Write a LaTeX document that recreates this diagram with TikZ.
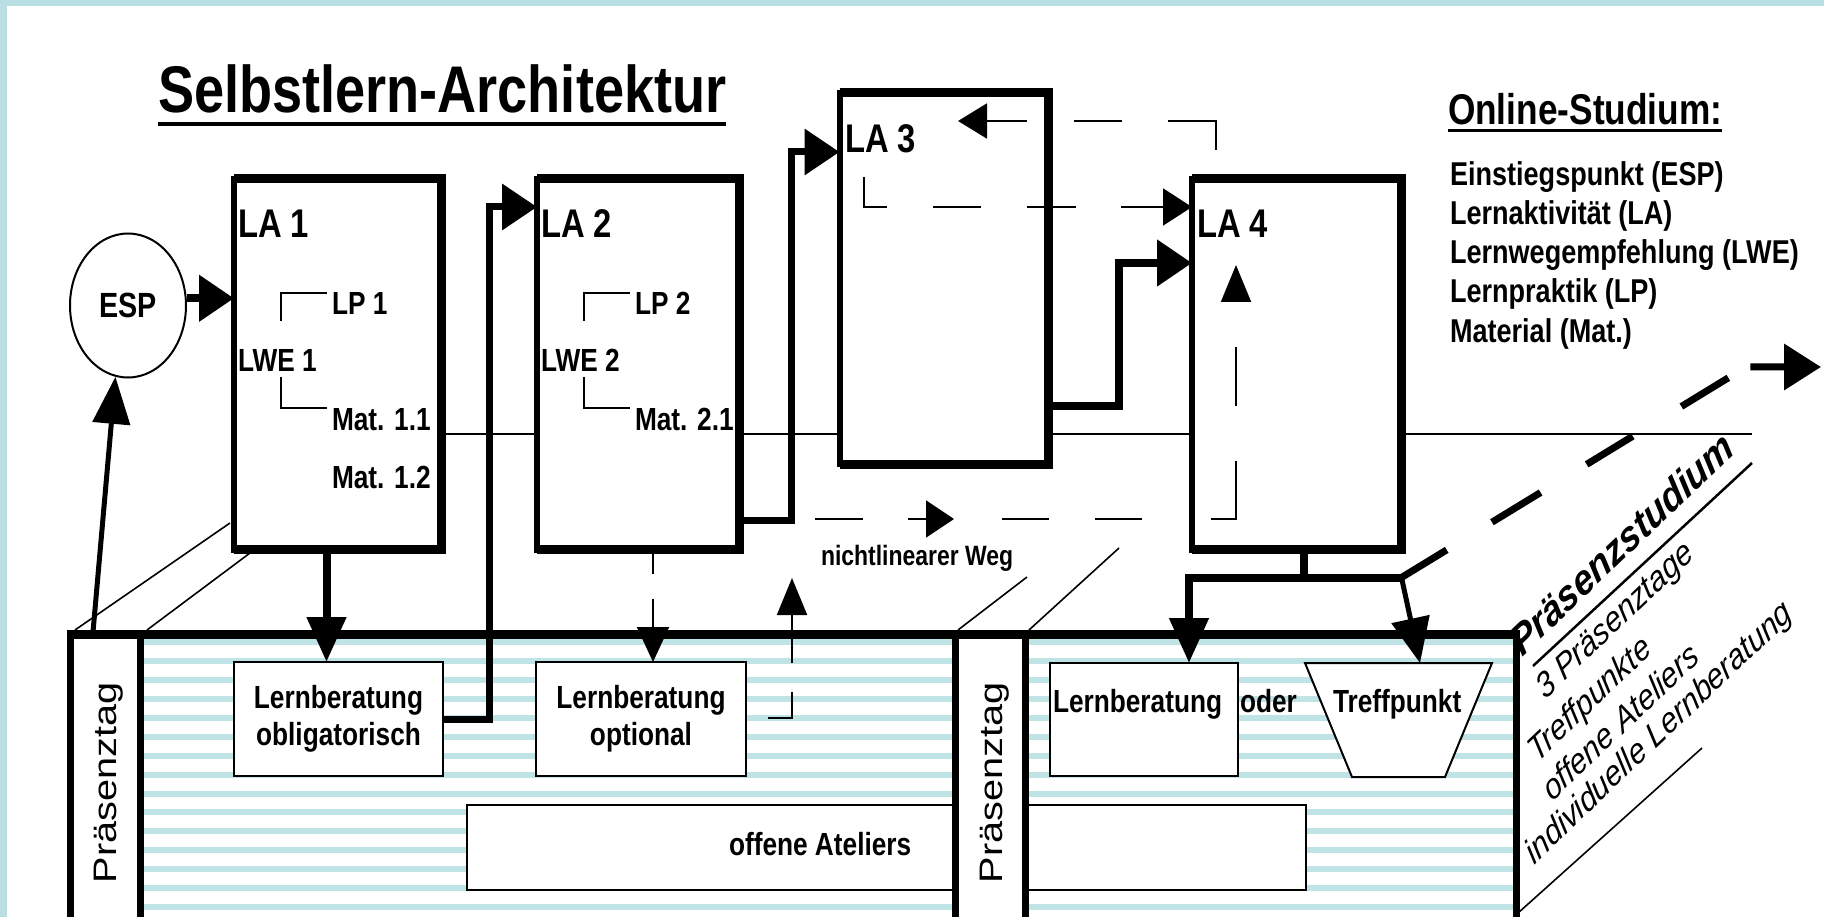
\documentclass[tikz,border=0pt]{standalone}
\usepackage{fontspec}
\setmainfont{Liberation Sans}[FakeStretch=0.82]
\newfontfamily\plainfont{Liberation Sans}
\usetikzlibrary{arrows.meta,calc,shapes.geometric}
\definecolor{frameblue}{RGB}{186,223,227}
\definecolor{stripeblue}{RGB}{192,227,230}
\begin{document}
\begin{tikzpicture}[x=1pt,y=-1pt,line join=miter,
  thinl/.style={line width=2pt},
  persp/.style={line width=1.6pt},
  labox/.style={draw,fill=white,line width=6pt,outer sep=0pt,inner sep=0pt},
  sbox/.style={draw,fill=white,line width=2pt,outer sep=0pt,inner sep=0pt,align=center,
     font=\bfseries\fontsize{32}{37}\selectfont},
  lbl/.style={inner sep=0pt,outer sep=0pt,anchor=base west,font=\bfseries\fontsize{32}{38}\selectfont},
  lalbl/.style={lbl,font=\bfseries\fontsize{40}{46}\selectfont},
  rotlbl/.style={inner sep=0pt,outer sep=0pt,anchor=base west,transform shape,
     font=\plainfont\itshape\fontsize{36}{40}\selectfont},
  vertlbl/.style={inner sep=0pt,outer sep=0pt,anchor=base west,transform shape,
     font=\plainfont\fontsize{39.7}{44}\selectfont},
  arrR/.style={-{Triangle[length=35pt,width=45pt]}},
  arrD/.style={-{Triangle[length=45pt,width=38pt]}}]
\useasboundingbox (0,0) rectangle (1824,917);
\fill[white] (0,0) rectangle (1824,917);
% frame
\fill[frameblue] (0,0) rectangle (1824,6);
\fill[frameblue] (0,0) rectangle (7,917);

% thin horizontal line
\coordinate (hl1) at (446,434);
\coordinate (hl2) at (1752,434);
\draw[thinl] (hl1) -- (hl2);

% perspective lines
\draw[persp] (75,630) -- (230,523);
\draw[persp] (147,630) -- (250,553);
\draw[persp] (958,630) -- (1027,577);
\draw[persp] (1029,630) -- (1119,548);
\draw[persp] (1518,913) -- (1702,748);

% slab stripes
\foreach \i in {0,...,14}{
  \pgfmathsetmacro\yy{642.3+18.9*\i}
  \fill[stripeblue] (144,\yy-3) rectangle (952,\yy+3);
  \fill[stripeblue] (1028,\yy-3) rectangle (1513,\yy+3);
}
% slab boxes
\node[sbox,minimum width=209pt,minimum height=114pt] (obl) at (338.5,719) {Lernberatung\\obligatorisch};
\node[sbox,minimum width=210pt,minimum height=114pt] (opt) at (641,719) {Lernberatung\\optional};
\node[sbox,minimum width=188pt,minimum height=113pt] (lbr) at (1144,719.5) {};
\node[sbox,minimum width=488pt,minimum height=85pt] (atl) at (711,847.5) {};
\node[sbox,minimum width=278pt,minimum height=85pt] (atr) at (1167,847.5) {};
\draw[thinl,fill=white] (1305,663) -- (1492,663) -- (1445,777) -- (1352,777) -- cycle;
\coordinate (treffTop) at (1420,663);
\node[lbl] (treff) at (1333,712) {Treffpunkt};
\node[lbl] (lbrt) at (1053,712) {Lernberatung};
\node[lbl] (oder) at (1240,712) {oder};
\node[lbl] (atlt) at (729,855) {offene Ateliers};
% slab frame
\draw[line width=7pt] (70,917) -- (70,634) -- (1516,634) -- (1516,917);
\draw[line width=9pt] (66.5,634) -- (1519.5,634);
\draw[line width=7pt] (140,634) -- (140,917);
\draw[line width=7pt] (955,634) -- (955,917);
\draw[line width=7pt] (1025,634) -- (1025,917);
\begin{scope}[shift={(116,883)},xscale=0.82,rotate=90]
  \node[vertlbl] (pt1) at (0,0) {Präsenztag};
\end{scope}
\begin{scope}[shift={(1002,883)},xscale=0.82,rotate=90]
  \node[vertlbl] (pt2) at (0,0) {Präsenztag};
\end{scope}

% LA boxes
\node[labox,minimum width=207.5pt,minimum height=370.5pt] (la1) at (337.75,364.25) {};
\node[labox,minimum width=202.5pt,minimum height=370.5pt] (la2) at (638.25,364.25) {};
\node[labox,minimum width=209pt,minimum height=371pt] (la3) at (944,278.5) {};
\node[labox,minimum width=209.5pt,minimum height=370.5pt] (la4) at (1296.75,364.25) {};
\foreach \b in {la1,la2,la3,la4}{
  \draw[line width=9pt] (\b.north west) -- (\b.north east) -- (\b.south east) -- (\b.south west);
}

% box texts
\node[lalbl] (la1t) at (238,238) {LA 1};
\node[lalbl] (la2t) at (541,238) {LA 2};
\node[lalbl] (la3t) at (845,153) {LA 3};
\node[lalbl] (la4t) at (1197,238) {LA 4};
\node[lbl] (lp1) at (332,315) {LP 1};
\node[lbl] (lwe1) at (238,372) {LWE 1};
\node[lbl] (mat11) at (332,430) {Mat. 1.1};
\node[lbl] (mat12) at (332,488) {Mat. 1.2};
\node[lbl] (lp2) at (635,315) {LP 2};
\node[lbl] (lwe2) at (541,372) {LWE 2};
\node[lbl] (mat21) at (635,430) {Mat. 2.1};
\draw[thinl] ($(lwe1.north)+(3.5,-29)$) |- ($(lp1.north west)+(-5,0)$);
\draw[thinl] ($(lwe1.south)+(3.5,5)$) |- ($(mat11.north west)+(-5,0)$);
\draw[thinl] ($(lwe2.north)+(3.5,-29)$) |- ($(lp2.north west)+(-5,0)$);
\draw[thinl] ($(lwe2.south)+(3.5,5)$) |- ($(mat21.north west)+(-5,0)$);

% title and legend
\node[lbl,font=\bfseries\fontsize{66}{70}\selectfont] (title) at (158,113) {Selbstlern-Architektur};
\draw[line width=4pt] ($(title.base west)+(0,11)$) -- ($(title.base east)+(0,11)$);
\node[lbl,font=\bfseries\fontsize{43}{48}\selectfont] (online) at (1448,125) {Online-Studium:};
\draw[line width=3pt] ($(online.base west)+(0,6)$) -- ($(online.base east)+(0,6)$);
\node[lbl,font=\bfseries\fontsize{33}{38}\selectfont] (leg1) at (1450,186) {Einstiegspunkt (ESP)};
\node[lbl,font=\bfseries\fontsize{33}{38}\selectfont] (leg2) at (1450,225) {Lernaktivität (LA)};
\node[lbl,font=\bfseries\fontsize{33}{38}\selectfont] (leg3) at (1450,264) {Lernwegempfehlung (LWE)};
\node[lbl,font=\bfseries\fontsize{33}{38}\selectfont] (leg4) at (1450,303) {Lernpraktik (LP)};
\node[lbl,font=\bfseries\fontsize{33}{38}\selectfont] (leg5) at (1450,343) {Material (Mat.)};
\node[lbl,font=\bfseries\fontsize{28}{32}\selectfont] (nlw) at (821,565) {nichtlinearer Weg};

% rotated side texts
\begin{scope}[shift={(1522,657)},xscale=0.82,rotate=38]
  \node[rotlbl,font=\plainfont\bfseries\itshape\fontsize{43}{48}\selectfont] (praes) at (0,0) {Präsenzstudium};
\end{scope}
\draw[line width=2.5pt] (1533,666) -- (1752,463);
\begin{scope}[shift={(1545,700)},xscale=0.82,rotate=38]
  \node[rotlbl] (r1) at (0,0) {3 Präsenztage};
\end{scope}
\begin{scope}[shift={(1537,763)},xscale=0.82,rotate=38]
  \node[rotlbl] (r2) at (0,0) {Treffpunkte};
\end{scope}
\begin{scope}[shift={(1552,802)},xscale=0.82,rotate=38]
  \node[rotlbl] (r3) at (0,0) {offene Ateliers};
\end{scope}
\begin{scope}[shift={(1534,865)},xscale=0.82,rotate=38]
  \node[rotlbl] (r4) at (0,0) {individuelle Lernberatung};
\end{scope}

% ESP
\node[ellipse,draw,line width=2pt,minimum width=116pt,minimum height=144pt,inner sep=0pt,
  font=\bfseries\fontsize{35}{40}\selectfont] (esp) at (128,305.5) {ESP};
\draw[line width=8pt,arrR] (esp.7) -- (esp.7 -| la1.west);
\coordinate (espsrc) at (93,632);
\draw[line width=5pt,-{Triangle[length=47pt,width=37pt]}] (espsrc) -- (esp.260);

% thick connectors
\path ($(obl.north)+(-12,0)$) coordinate (t1);
\draw[line width=8pt,arrD] (la1.south -| t1) -- (t1);
\draw[line width=7pt,arrR] (obl.east) -| ($(la2.north west)+(-48,28)$) -- ($(la2.north west)+(0,28)$);
\draw[line width=7pt,arrR] ($(la2.south east)+(0,-29)$) -| ($(la3.north west)+(-48,59)$) -- ($(la3.north west)+(0,59)$);
\draw[line width=8pt,arrR] ($(la3.south east)+(0,-58)$) -| ($(la4.north west)+(-73,84)$) -- ($(la4.north west)+(0,84)$);
\draw[line width=8pt] ($(la4.south)+(7,0)$) -- ($(la4.south)+(7,28)$);
\coordinate (barL) at ($(la4.south west)+(-3,28)$);
\coordinate (barR) at ($(la4.south east)+(0,28)$);
\draw[line width=8pt,arrD] (barR) -- (barL) -- (barL |- lbr.north);
\draw[line width=5pt,arrD] (barR) -- (treffTop);
\coordinate (bend) at (1746,367);
\coordinate (farR) at (1821,367);
\draw[line width=7pt,dash pattern=on 53pt off 53pt on 57pt off 54pt on 54pt off 57pt on 55pt off 25pt on 300pt,
  -{Triangle[length=37pt,width=45pt]}] (barR) -- (bend) -- (farR);

% thin dashed connectors
\coordinate (tdS) at (1216,150);
\coordinate (tdE) at (958,121);
\draw[thinl,dash pattern=on 77pt off 46pt on 48pt off 47pt on 200pt,
  -{Triangle[length=29pt,width=35pt]}] (tdS) -- (tdS |- tdE) -- (tdE);
\coordinate (ldS) at (864,177);
\draw[thinl,dash pattern=on 53pt off 46pt on 48pt off 46pt on 49pt off 45pt on 200pt,
  -{Triangle[length=29pt,width=37pt]}] (ldS) |- ($(la4.north west)+(0,28)$);
\path ($(opt.north)+(12,0)$) coordinate (t2);
\draw[thinl,dash pattern=on 24pt off 25pt on 200pt,
  -{Triangle[length=35pt,width=32pt]}] (la2.south -| t2) -- (t2);
\coordinate (oupS) at ($(opt.east)+(22,-1)$);
\coordinate (oupE) at (792,578);
\draw[thinl,dash pattern=on 50pt off 29pt on 200pt,
  -{Triangle[length=37pt,width=30pt]}] (oupS) -| (oupE);
\coordinate (nwS) at (815,519);
\coordinate (nwM) at (954,519);
\coordinate (nwE) at (1236,265);
\draw[thinl,dash pattern=on 48pt off 45pt on 200pt,
  -{Triangle[length=28pt,width=37pt]}] (nwS) -- (nwM);
\draw[thinl,dash pattern=on 0pt off 48pt on 47pt off 46pt on 47pt off 69pt on 83pt off 55pt on 59pt off 46pt on 200pt,
  -{Triangle[length=37pt,width=30pt]}] (nwM) -| (nwE);
\end{tikzpicture}
\end{document}
